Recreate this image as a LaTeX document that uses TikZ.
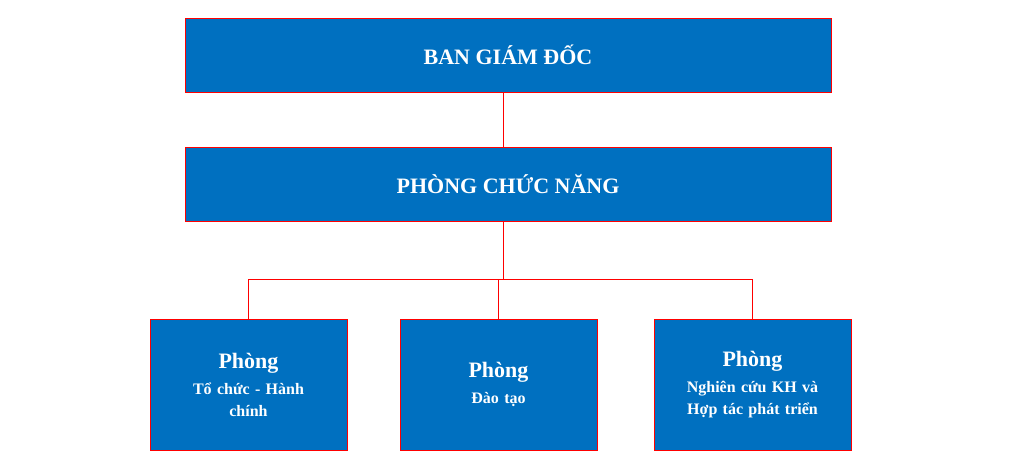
\documentclass[tikz,border=0pt]{standalone}
\usepackage{fontspec}
\setmainfont{Liberation Serif}
\definecolor{boxblue}{HTML}{0070C0}
\begin{document}
\begin{tikzpicture}[x=1pt, y=-1pt,
    every node/.style={draw=red, fill=boxblue, text=white, font=\bfseries, align=center, inner sep=0pt, line width=1pt},
    topbox/.style={minimum width=646pt, minimum height=74pt, font=\fontsize{22}{26}\bfseries\selectfont},
    unitbox/.style={minimum width=197pt, minimum height=131pt, text width=190pt, font=\fontsize{16}{22}\bfseries\selectfont}]
    
    % Page frame
    \useasboundingbox (0,0) rectangle (1010,471);
    
    % Top levels
    \node[topbox] (BGD) at (508,55) {BAN GIÁM ĐỐC};
    \node[topbox] (PCN) at (508,184) {PHÒNG CHỨC NĂNG};
    
    % Units
    \node[unitbox] (TC) at (248.5,384.5) {{\fontsize{22}{26}\selectfont Phòng}\\[4pt]Tổ chức - Hành\\chính\\[16pt]};
    \node[unitbox] (DT) at (498.5,384.5) {{\fontsize{22}{26}\selectfont Phòng}\\[4pt]Đào tạo\\[38pt]};
    \node[unitbox] (NC) at (752.5,384.5) {{\fontsize{22}{26}\selectfont Phòng}\\[4pt]Nghiên cứu KH và\\Hợp tác phát triển\\[16pt]};
    
    % Connectors
    \coordinate (J) at (503,279);
    \draw[red] (503,92) -- (503,147);
    \draw[red] (503,221) -- (J);
    \draw[red] (J -| TC.north) -- (J -| NC.north);
    \draw[red] (J -| TC.north) -- (TC.north);
    \draw[red] (J -| DT.north) -- (DT.north);
    \draw[red] (J -| NC.north) -- (NC.north);
    
\end{tikzpicture}
\end{document}
